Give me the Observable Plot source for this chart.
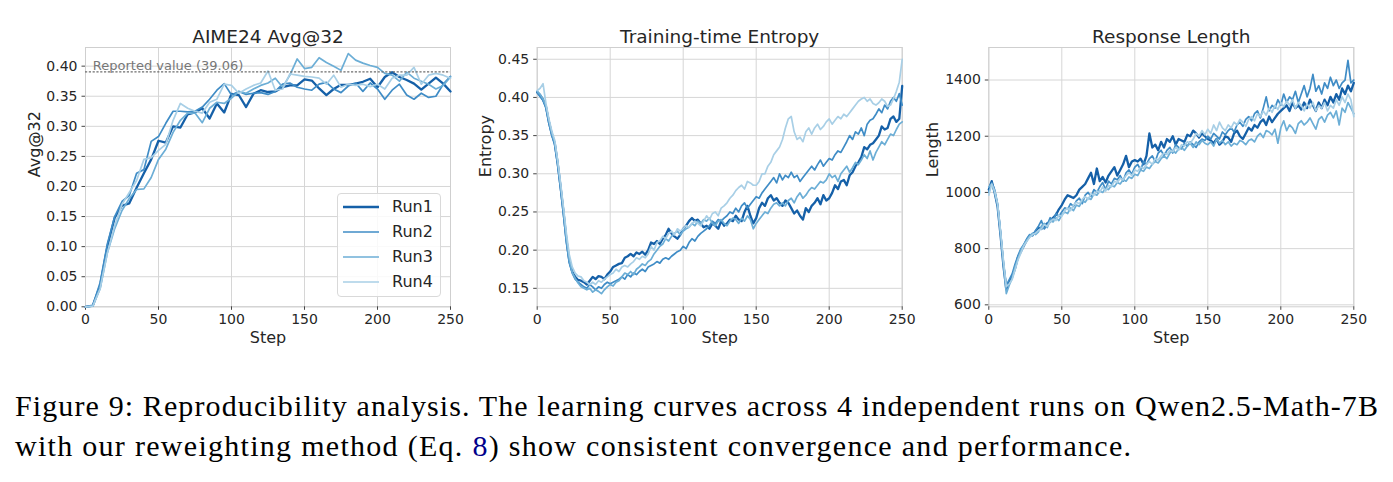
<!DOCTYPE html>
<html><head><meta charset="utf-8">
<script src="https://cdn.jsdelivr.net/npm/d3@7"></script>
<script src="https://cdn.jsdelivr.net/npm/@observablehq/plot@0.6"></script>
<style>
html,body{margin:0;padding:0;background:#fff;}
#wrap{position:relative;width:1393px;height:482px;overflow:hidden;background:#fff;font-family:"DejaVu Sans",sans-serif;color:#262626;}
.panel{position:absolute;top:0;}
#legend{position:absolute;left:337px;top:193px;width:104px;height:104px;border:1px solid #d9d9d9;border-radius:4px;background:rgba(255,255,255,0.85);box-sizing:border-box;}
.lrow{position:absolute;left:0;height:20px;line-height:20px;font-size:16px;white-space:nowrap;}
.lrow svg{position:absolute;left:5px;top:0;}
.lrow span{position:absolute;left:54px;top:0;}
#caption{position:absolute;left:0;top:370px;}
</style></head><body><div id="wrap"></div>
<script>
// ---------- data ----------
const runs = ["Run1", "Run2", "Run3", "Run4"];
const runColors = ["#1560a8", "#3f8cc6", "#6caed6", "#a8cfe6"];
const runWidths = [2.3, 1.7, 1.7, 1.7];

const xTicks = [0, 50, 100, 150, 200, 250];
const avgTicks = [0, 0.05, 0.10, 0.15, 0.20, 0.25, 0.30, 0.35, 0.40];
const entTicks = [0.15, 0.20, 0.25, 0.30, 0.35, 0.40, 0.45];
const lenTicks = [600, 800, 1000, 1200, 1400];
const reportedValue = 0.3906;
const reportedLabel = "Reported value (39.06)";

// AIME24 Avg@32, evaluated every 5 steps
const avgSteps = d3.range(0, 251, 5);
const avgRun1 = [0,0.002,0.035,0.10,0.148,0.168,0.172,0.198,0.222,0.245,0.276,0.273,0.30,0.298,0.32,0.323,0.33,0.313,0.338,0.323,0.354,0.352,0.332,0.354,0.36,0.357,0.358,0.365,0.368,0.368,0.378,0.376,0.363,0.352,0.362,0.369,0.369,0.371,0.374,0.379,0.365,0.382,0.39,0.382,0.377,0.371,0.361,0.371,0.381,0.371,0.358];
const avgRun2 = [0,0.002,0.04,0.105,0.15,0.175,0.185,0.222,0.228,0.275,0.283,0.305,0.325,0.325,0.324,0.325,0.332,0.345,0.36,0.371,0.352,0.358,0.353,0.355,0.356,0.353,0.358,0.37,0.372,0.365,0.362,0.36,0.37,0.373,0.362,0.356,0.367,0.372,0.358,0.372,0.362,0.345,0.36,0.37,0.352,0.345,0.355,0.348,0.35,0.37,0.383];
const avgRun3 = [0,0.001,0.03,0.09,0.13,0.16,0.18,0.195,0.196,0.215,0.245,0.262,0.29,0.31,0.322,0.322,0.306,0.33,0.34,0.338,0.347,0.358,0.355,0.362,0.368,0.372,0.38,0.365,0.385,0.412,0.396,0.398,0.414,0.406,0.40,0.393,0.421,0.41,0.405,0.401,0.398,0.388,0.385,0.375,0.39,0.38,0.375,0.37,0.362,0.368,0.382];
const avgRun4 = [0,0.001,0.03,0.09,0.135,0.17,0.19,0.21,0.245,0.248,0.26,0.27,0.31,0.338,0.33,0.325,0.322,0.34,0.345,0.37,0.368,0.355,0.362,0.368,0.372,0.392,0.36,0.362,0.387,0.385,0.383,0.382,0.38,0.37,0.385,0.365,0.37,0.368,0.37,0.366,0.37,0.362,0.38,0.385,0.385,0.398,0.37,0.385,0.388,0.385,0.38];

// Training-time entropy, read every 2 steps
const trainSteps = d3.range(0, 251, 2);
const entRun1 = [0.407,0.403,0.397,0.388,0.368,0.352,0.340,0.314,0.283,0.250,0.214,0.186,0.172,0.165,0.161,
0.160,0.158,0.155,0.16,0.165,0.162,0.166,0.165,0.162,0.168,0.172,0.178,0.18,0.182,0.183,0.19,0.192,0.195,0.192,0.197,0.195,0.198,0.194,0.2,0.21,0.208,0.212,0.208,0.215,0.22,0.228,0.222,0.218,0.215,0.22,0.228,0.232,0.238,0.242,0.238,0.24,0.235,0.23,0.232,0.228,0.235,0.232,0.228,0.238,0.232,0.235,0.24,0.238,0.245,0.24,0.238,0.25,0.258,0.245,0.235,0.242,0.255,0.262,0.258,0.268,0.272,0.265,0.268,0.262,0.258,0.265,0.262,0.255,0.248,0.252,0.245,0.24,0.255,0.25,0.258,0.262,0.268,0.26,0.272,0.265,0.268,0.275,0.285,0.28,0.29,0.292,0.285,0.298,0.302,0.31,0.315,0.322,0.335,0.332,0.338,0.34,0.345,0.35,0.362,0.358,0.36,0.372,0.375,0.368,0.372,0.415];
const entRun2 = [0.406,0.401,0.396,0.386,0.366,0.350,0.338,0.312,0.280,0.246,0.210,0.183,0.170,0.162,0.158,
0.155,0.152,0.15,0.155,0.152,0.148,0.152,0.15,0.155,0.158,0.156,0.158,0.16,0.162,0.165,0.162,0.168,0.165,0.17,0.168,0.172,0.175,0.172,0.178,0.18,0.182,0.185,0.183,0.188,0.19,0.188,0.192,0.195,0.198,0.2,0.205,0.202,0.21,0.215,0.212,0.218,0.222,0.225,0.228,0.232,0.238,0.235,0.24,0.238,0.242,0.245,0.25,0.248,0.255,0.25,0.258,0.262,0.255,0.26,0.265,0.27,0.268,0.275,0.28,0.285,0.29,0.295,0.288,0.3,0.292,0.298,0.295,0.302,0.295,0.298,0.29,0.295,0.3,0.305,0.31,0.305,0.312,0.318,0.31,0.315,0.32,0.318,0.325,0.33,0.328,0.335,0.342,0.35,0.345,0.355,0.352,0.36,0.35,0.365,0.37,0.372,0.378,0.385,0.38,0.39,0.385,0.395,0.4,0.395,0.405,0.39];
const entRun3 = [0.408,0.404,0.398,0.389,0.370,0.353,0.341,0.316,0.285,0.252,0.215,0.187,0.171,0.163,0.157,
0.152,0.15,0.148,0.15,0.145,0.148,0.146,0.143,0.148,0.152,0.155,0.153,0.158,0.16,0.165,0.17,0.168,0.172,0.168,0.175,0.178,0.182,0.18,0.185,0.188,0.195,0.2,0.205,0.208,0.215,0.212,0.218,0.222,0.225,0.22,0.225,0.228,0.23,0.235,0.232,0.238,0.235,0.24,0.238,0.242,0.235,0.232,0.238,0.24,0.235,0.232,0.238,0.242,0.24,0.235,0.242,0.238,0.245,0.24,0.228,0.235,0.24,0.245,0.25,0.248,0.255,0.26,0.262,0.258,0.262,0.258,0.265,0.268,0.262,0.27,0.275,0.268,0.272,0.278,0.282,0.28,0.285,0.29,0.288,0.292,0.3,0.295,0.298,0.29,0.3,0.305,0.31,0.302,0.308,0.315,0.312,0.318,0.325,0.32,0.33,0.318,0.328,0.335,0.342,0.338,0.345,0.352,0.35,0.358,0.365,0.368];
const entRun4 = [0.409,0.412,0.418,0.392,0.372,0.356,0.344,0.318,0.288,0.256,0.222,0.194,0.178,0.170,0.166,
0.165,0.16,0.158,0.155,0.158,0.155,0.16,0.158,0.162,0.165,0.168,0.17,0.175,0.172,0.178,0.18,0.178,0.182,0.185,0.19,0.188,0.192,0.19,0.195,0.205,0.2,0.21,0.212,0.218,0.215,0.222,0.225,0.22,0.228,0.225,0.228,0.232,0.23,0.235,0.238,0.235,0.232,0.238,0.245,0.24,0.248,0.25,0.245,0.255,0.258,0.262,0.268,0.272,0.278,0.282,0.285,0.28,0.29,0.288,0.285,0.285,0.29,0.3,0.3,0.31,0.315,0.325,0.33,0.335,0.345,0.36,0.372,0.375,0.355,0.345,0.348,0.342,0.355,0.36,0.352,0.36,0.365,0.358,0.362,0.368,0.372,0.365,0.37,0.375,0.372,0.378,0.375,0.38,0.385,0.39,0.395,0.398,0.4,0.395,0.398,0.392,0.39,0.393,0.398,0.395,0.388,0.39,0.398,0.408,0.42,0.45];

// Response length, read every 2 steps
const lenRun1 = [1010,1040,1000,950,850,740,655,680,700,730,770,790,810,830,845,850,860,875,870,880,890,895,910,920,940,955,975,990,985,980,990,1010,1020,1030,1050,1070,1030,1085,1040,1055,1035,1060,1075,1090,1060,1080,1100,1130,1090,1110,1115,1110,1120,1100,1130,1210,1160,1170,1150,1180,1160,1190,1180,1200,1170,1190,1185,1180,1205,1200,1220,1210,1195,1210,1200,1190,1185,1175,1190,1170,1180,1200,1195,1180,1210,1220,1200,1190,1210,1230,1220,1240,1230,1250,1260,1240,1270,1250,1265,1280,1290,1300,1310,1290,1320,1300,1310,1295,1320,1300,1330,1310,1290,1320,1300,1330,1310,1340,1320,1350,1330,1370,1350,1380,1360,1390];
const lenRun2 = [1000,1035,1010,960,860,750,670,690,710,745,775,800,815,835,850,845,865,880,900,870,885,910,900,925,915,930,945,940,960,950,970,980,960,990,1000,985,1010,1000,1020,1035,1010,1040,1030,1050,1045,1060,1040,1070,1080,1065,1090,1100,1080,1110,1100,1120,1130,1110,1140,1150,1130,1150,1160,1140,1170,1160,1155,1175,1165,1180,1170,1160,1180,1190,1185,1200,1190,1210,1200,1190,1215,1205,1220,1230,1215,1240,1250,1235,1260,1270,1255,1280,1290,1265,1300,1340,1290,1310,1300,1330,1310,1350,1320,1340,1330,1360,1320,1350,1380,1340,1370,1420,1360,1380,1350,1390,1370,1410,1380,1400,1370,1390,1400,1470,1390,1400];
const lenRun3 = [1020,1030,1000,955,855,745,640,670,695,735,765,795,815,830,845,855,850,860,880,890,875,900,895,910,900,920,930,925,945,935,955,950,970,965,980,975,995,990,1005,1000,1015,1010,1025,1020,1035,1030,1045,1040,1055,1050,1065,1060,1080,1075,1090,1085,1100,1110,1105,1120,1130,1120,1140,1150,1140,1155,1160,1150,1165,1175,1160,1180,1170,1185,1175,1170,1180,1165,1190,1175,1185,1170,1180,1165,1175,1170,1185,1180,1170,1185,1190,1180,1200,1210,1195,1220,1215,1205,1225,1175,1230,1255,1220,1240,1230,1210,1245,1255,1240,1250,1265,1245,1225,1260,1270,1250,1275,1285,1265,1290,1240,1300,1285,1320,1300,1280];
const lenRun4 = [990,1030,1005,960,865,760,665,675,690,725,760,785,810,825,840,850,855,865,870,885,880,895,905,900,920,915,935,945,935,955,965,960,975,985,975,995,990,1005,1000,1020,1005,1025,1020,1040,1035,1050,1045,1060,1070,1060,1080,1075,1090,1085,1100,1110,1100,1120,1115,1130,1140,1135,1150,1145,1160,1150,1170,1165,1180,1175,1190,1210,1200,1220,1205,1225,1210,1240,1220,1250,1230,1220,1240,1230,1250,1240,1260,1250,1235,1260,1270,1255,1280,1270,1290,1275,1300,1285,1310,1295,1320,1305,1325,1310,1330,1300,1320,1310,1290,1315,1300,1320,1290,1310,1300,1320,1290,1310,1300,1330,1310,1340,1320,1350,1330,1270];

const panels = [
  {title: "AIME24 Avg@32", ylabel: "Avg@32", steps: avgSteps, series: [avgRun1, avgRun2, avgRun3, avgRun4],
   left: 0, width: 470, mL: 85, mR: 20, yDomain: [0, 0.431], yTicks: avgTicks, yFmt: d3.format(".2f"), ylabelDx: -51, reported: true},
  {title: "Training-time Entropy", ylabel: "Entropy", steps: trainSteps, series: [entRun1, entRun2, entRun3, entRun4],
   left: 470, width: 450, mL: 66.7, mR: 18.3, yDomain: [0.1258, 0.4654], yTicks: entTicks, yFmt: d3.format(".2f"), ylabelDx: -51},
  {title: "Response Length", ylabel: "Length", steps: trainSteps, series: [lenRun1, lenRun2, lenRun3, lenRun4],
   left: 920, width: 473, mL: 68.3, mR: 39.7, yDomain: [593, 1515.7], yTicks: lenTicks, yFmt: d3.format("d"), ylabelDx: -56}
];

// ---------- drawing ----------
const wrap = document.getElementById("wrap");
const H = 350, MT = 47, MB = 43.7;

for (const p of panels) {
  const lineMarks = p.series.map((vals, r) =>
    Plot.line(p.steps.map((s, i) => ({step: s, value: vals[i]})),
      {x: "step", y: "value", stroke: runColors[r], strokeWidth: runWidths[r], strokeLinejoin: "round"}));
  const marks = [
    Plot.gridX(xTicks, {stroke: "#d6d6d6", strokeOpacity: 1, strokeWidth: 1}),
    Plot.gridY(p.yTicks, {stroke: "#d6d6d6", strokeOpacity: 1, strokeWidth: 1}),
    Plot.frame({stroke: "#cfcfcf", strokeWidth: 1}),
    Plot.axisX(xTicks, {tickSize: 3.5, tickPadding: 3.5, fontSize: 14, label: null, stroke: "#444"}),
    Plot.axisY(p.yTicks, {tickSize: 3.5, tickPadding: 4.5, fontSize: 14, label: null, tickFormat: p.yFmt, stroke: "#444"}),
    ...lineMarks,
    Plot.text([p.title], {text: d => d, frameAnchor: "top", lineAnchor: "bottom", dy: -5, fontSize: 18.5, fill: "#262626"}),
    Plot.text(["Step"], {text: d => d, frameAnchor: "bottom", lineAnchor: "bottom", dy: 36, fontSize: 16, fill: "#262626"}),
    Plot.text([p.ylabel], {text: d => d, frameAnchor: "left", rotate: -90, dx: p.ylabelDx, fontSize: 16, fill: "#262626"})
  ];
  if (p.reported) {
    marks.push(Plot.ruleY([reportedValue], {stroke: "#6e6e6e", strokeWidth: 1.3, strokeDasharray: "2.2,1.6"}));
    marks.push(Plot.text([{x: 5, y: reportedValue, t: reportedLabel}],
      {x: "x", y: "y", text: "t", textAnchor: "start", lineAnchor: "bottom", dy: -2, fontSize: 13, fill: "#777777"}));
  }
  const svg = Plot.plot({
    width: p.width, height: H,
    marginLeft: p.mL, marginRight: p.mR, marginTop: MT, marginBottom: MB,
    style: {fontFamily: "DejaVu Sans, sans-serif", fontSize: "14px", color: "#262626", background: "transparent", overflow: "visible"},
    x: {domain: [0, 250]},
    y: {domain: p.yDomain},
    marks
  });
  svg.classList.add("panel");
  svg.style.left = p.left + "px";
  wrap.appendChild(svg);
}

// legend (panel 1)
const legend = document.createElement("div");
legend.id = "legend";
runs.forEach((name, r) => {
  const row = document.createElement("div");
  row.className = "lrow";
  row.style.top = (3 + r * 25) + "px";
  row.style.width = "100px";
  row.innerHTML = `<svg width="36" height="20"><line x1="0" x2="36" y1="10" y2="10" stroke="${runColors[r]}" stroke-width="${runWidths[r]}"/></svg><span>${name}</span>`;
  legend.appendChild(row);
});
wrap.appendChild(legend);

// caption
const capLine1 = "Figure 9: Reproducibility analysis. The learning curves across 4 independent runs on Qwen2.5-Math-7B";
const capLine2a = "with our reweighting method (Eq. ";
const capLine2b = "8";
const capLine2c = ") show consistent convergence and performance.";
const ns = "http://www.w3.org/2000/svg";
const cap = document.createElementNS(ns, "svg");
cap.setAttribute("id", "caption");
cap.setAttribute("width", 1393);
cap.setAttribute("height", 112);
cap.innerHTML =
  `<text x="15" y="46" font-family="Liberation Serif, serif" font-size="30" fill="#000" textLength="1363" lengthAdjust="spacing">${capLine1}</text>` +
  `<text x="15" y="86" font-family="Liberation Serif, serif" font-size="30" fill="#000" textLength="1116" lengthAdjust="spacing">${capLine2a}<tspan fill="#00008b">${capLine2b}</tspan>${capLine2c}</text>`;
wrap.appendChild(cap);
</script></body></html>
